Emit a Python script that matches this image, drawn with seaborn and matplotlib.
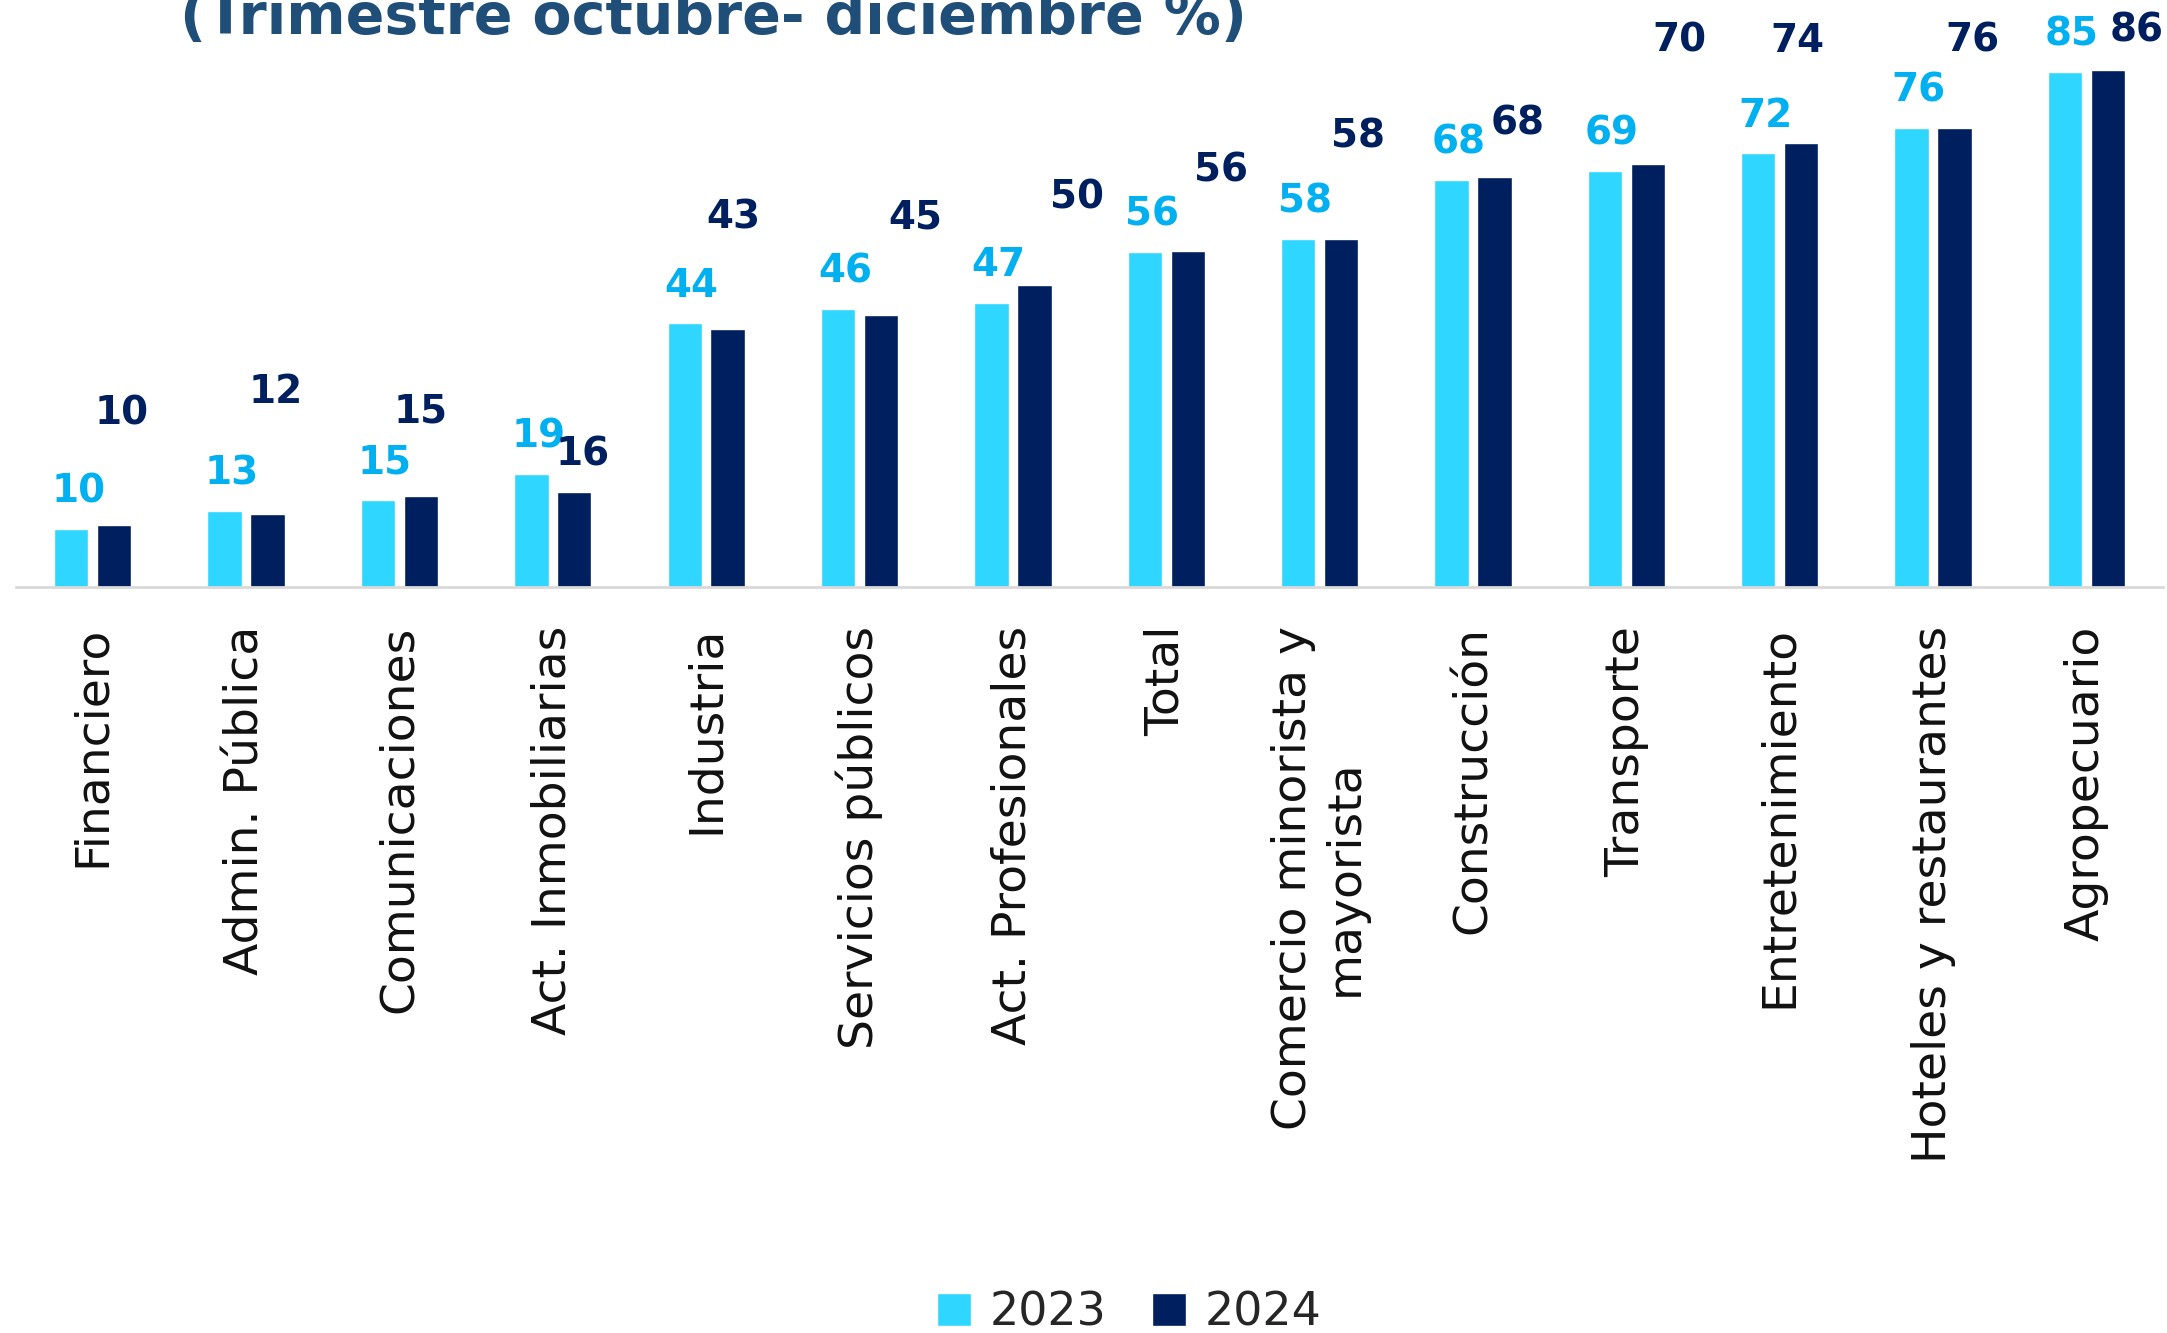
import pandas as pd
import matplotlib.pyplot as plt
import seaborn as sns

sectors = ['Financiero', 'Admin. Pública', 'Comunicaciones', 'Act. Inmobiliarias',
           'Industria', 'Servicios públicos', 'Act. Profesionales', 'Total',
           'Comercio minorista y\nmayorista', 'Construcción', 'Transporte',
           'Entretenimiento', 'Hoteles y restaurantes', 'Agropecuario']
years = ['2023', '2024']
values_2023 = [9.6, 12.5, 14.4, 18.7, 43.5, 45.8, 46.9, 55.2, 57.4, 67.2, 68.6, 71.6, 75.7, 85.0]
values_2024 = [10.3, 12.1, 15.0, 15.7, 42.6, 44.9, 49.9, 55.4, 57.4, 67.7, 69.7, 73.2, 75.7, 85.2]
labels_2023 = [10, 13, 15, 19, 44, 46, 47, 56, 58, 68, 69, 72, 76, 85]
labels_2024 = [10, 12, 15, 16, 43, 45, 50, 56, 58, 68, 70, 74, 76, 86]

# where the 2024 labels sit (points above / right of the bar top), as in the original
lift_2024 = [72, 80, 53, 19, 72, 62, 55, 50, 66, 30, 81, 66, 55, 21]
shift_2024 = [5, 6, 0, 6, 4, 25, 31, 24, 12, 17, 23, -3, 13, 21]

df = pd.DataFrame({
    'sector': sectors * 2,
    'year': [years[0]] * len(sectors) + [years[1]] * len(sectors),
    'value': values_2023 + values_2024,
})

sns.set_style('white')
plt.rcParams['font.family'] = ['DejaVu Sans']

fig = plt.figure(figsize=(21.67, 13.33), dpi=100)
ax = fig.add_axes([0.0074, 0.5596, 0.9908, 0.4321])

palette = {'2023': '#2fd6ff', '2024': '#001f5f'}
sns.barplot(data=df, x='sector', y='value', hue='year', palette=palette,
            width=0.56, gap=0.2, saturation=1, ax=ax)

ax.set_xlim(-0.5, len(sectors) - 0.5)
ax.set_ylim(0, 95)
ax.set_xlabel('')
ax.set_ylabel('')
ax.set_yticks([])
for s in ['top', 'right', 'left']:
    ax.spines[s].set_visible(False)
ax.spines['bottom'].set_color('#d9d9d9')
ax.spines['bottom'].set_linewidth(2)
ax.tick_params(axis='x', length=0, pad=28, labelsize=34, labelcolor='#111111')
plt.setp(ax.get_xticklabels(), rotation=90, ha='center', va='top', multialignment='center')

c23, c24 = ax.containers[0], ax.containers[1]
for bar, lab in zip(c23, labels_2023):
    ax.annotate(str(lab), (bar.get_x() + bar.get_width() / 2, bar.get_height()),
                xytext=(5, 19), textcoords='offset points', ha='center', va='baseline',
                fontsize=28, fontweight='bold', color='#00b0f0')
for bar, lab, dy, dx in zip(c24, labels_2024, lift_2024, shift_2024):
    ax.annotate(str(lab), (bar.get_x() + bar.get_width() / 2, bar.get_height()),
                xytext=(dx, dy), textcoords='offset points', ha='center', va='baseline',
                fontsize=28, fontweight='bold', color='#001f5f')

handles, labs = ax.get_legend_handles_labels()
ax.get_legend().remove()
fig.legend(handles, labs, loc='center', bbox_to_anchor=(1129 / 2167, 1 - 1313 / 1333),
           ncol=2, frameon=False, fontsize=33, handlelength=0.75, handleheight=0.75,
           handletextpad=0.4, columnspacing=1.0)

fig.text(180 / 2167, 0.9745, '(Trimestre octubre- diciembre %)', fontsize=41,
         fontweight='bold', color='#1f4e79', ha='left', va='baseline')

fig.savefig('out.png', dpi=100)
